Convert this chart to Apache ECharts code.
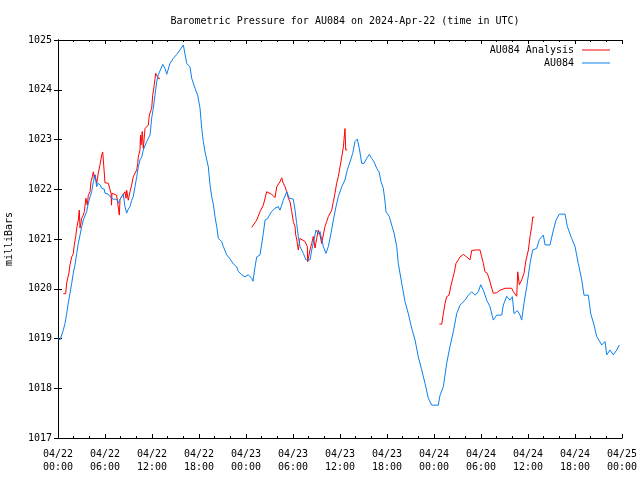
<!DOCTYPE html>
<html>
<head>
<meta charset="utf-8">
<script src="https://cdn.jsdelivr.net/npm/echarts@6/dist/echarts.min.js"></script>
<style>html,body{margin:0;padding:0;background:#fff}#c{width:640px;height:480px}</style>
</head>
<body>
<div id="c"></div>
<script>
// x values are hours since 2024-04-22 00:00 UTC
const tickLabels = ['04/22\n00:00','04/22\n06:00','04/22\n12:00','04/22\n18:00','04/23\n00:00','04/23\n06:00','04/23\n12:00','04/23\n18:00','04/24\n00:00','04/24\n06:00','04/24\n12:00','04/24\n18:00','04/25\n00:00'];

const blueHours = [0.00,0.26,0.68,0.89,1.11,1.31,1.53,1.75,1.95,2.17,2.39,2.59,2.81,3.03,3.23,3.45,3.66,3.87,4.09,4.30,4.51,4.72,4.94,5.07,5.36,5.58,5.91,6.00,6.42,6.64,7.06,7.49,7.70,7.92,8.13,8.34,8.55,8.77,8.97,9.19,9.41,9.61,9.83,10.05,10.25,10.47,10.69,10.89,11.32,11.75,11.96,12.17,12.38,12.60,12.80,13.24,13.37,13.66,13.88,14.30,14.72,15.15,15.58,16.00,16.43,16.85,17.07,17.49,17.83,18.13,18.35,18.55,18.77,19.19,19.40,19.62,19.83,20.04,20.26,20.47,20.90,21.10,21.54,21.96,22.38,22.81,23.02,23.45,23.87,24.30,24.73,24.89,25.15,25.37,25.79,26.21,26.43,26.77,26.98,27.28,27.70,28.12,28.34,28.56,28.76,29.20,29.53,30.04,30.26,30.47,30.68,30.89,31.32,31.66,32.17,32.39,32.68,32.94,33.23,33.45,33.66,33.87,34.21,34.51,34.81,35.15,35.49,35.78,36.22,36.64,36.93,37.28,37.62,37.92,38.21,38.47,38.77,39.07,39.41,39.74,40.05,40.34,40.69,40.98,41.24,41.53,41.75,41.87,42.30,42.60,42.90,43.24,43.44,43.88,44.30,44.72,45.16,45.58,46.00,46.43,46.85,47.27,47.71,48.55,48.77,49.19,49.62,50.04,50.47,50.90,51.32,51.96,52.38,52.81,53.24,53.66,53.96,54.30,54.73,55.15,55.57,56.00,56.64,56.85,57.28,57.70,58.00,58.22,58.64,58.98,59.20,59.49,59.84,60.26,60.60,61.11,61.45,61.96,62.18,62.81,63.24,63.58,64.00,64.73,65.02,65.58,66.00,66.42,66.86,67.15,67.70,68.01,68.43,68.77,69.41,69.83,70.05,70.47,70.89,71.33,71.66];
const bluePressure = [1019.00,1018.97,1019.17,1019.30,1019.50,1019.71,1019.91,1020.11,1020.31,1020.48,1020.71,1020.91,1021.08,1021.25,1021.38,1021.41,1021.55,1021.72,1021.85,1021.95,1022.15,1022.29,1022.05,1022.12,1022.09,1022.02,1022.00,1021.92,1021.90,1021.85,1021.80,1021.80,1021.72,1021.80,1021.85,1021.90,1021.65,1021.52,1021.60,1021.65,1021.78,1021.85,1022.05,1022.25,1022.45,1022.59,1022.65,1022.79,1022.96,1023.09,1023.43,1023.63,1023.89,1024.16,1024.30,1024.46,1024.51,1024.43,1024.31,1024.53,1024.63,1024.71,1024.80,1024.90,1024.53,1024.46,1024.23,1024.03,1023.89,1023.63,1023.22,1022.96,1022.75,1022.45,1022.10,1021.85,1021.70,1021.45,1021.25,1021.01,1020.95,1020.85,1020.68,1020.60,1020.50,1020.44,1020.35,1020.28,1020.24,1020.28,1020.21,1020.15,1020.44,1020.64,1020.68,1021.11,1021.38,1021.41,1021.48,1021.55,1021.62,1021.65,1021.58,1021.68,1021.78,1021.95,1021.82,1021.80,1021.58,1021.31,1021.05,1020.85,1020.71,1020.58,1020.58,1020.78,1020.98,1021.18,1021.10,1021.15,1021.00,1020.85,1020.71,1020.85,1021.08,1021.38,1021.65,1021.85,1022.05,1022.19,1022.39,1022.55,1022.72,1022.96,1023.01,1022.82,1022.52,1022.52,1022.62,1022.70,1022.62,1022.55,1022.42,1022.35,1022.15,1022.02,1021.75,1021.55,1021.45,1021.28,1021.12,1020.85,1020.51,1020.11,1019.74,1019.50,1019.20,1018.97,1018.63,1018.37,1018.10,1017.80,1017.66,1017.66,1017.86,1018.03,1018.50,1018.84,1019.14,1019.50,1019.67,1019.77,1019.87,1019.94,1019.87,1019.94,1020.08,1019.97,1019.77,1019.64,1019.37,1019.47,1019.47,1019.67,1019.85,1019.77,1019.84,1019.50,1019.56,1019.47,1019.37,1019.71,1020.04,1020.51,1020.78,1020.81,1020.99,1021.08,1020.88,1020.88,1021.18,1021.38,1021.50,1021.50,1021.25,1021.01,1020.85,1020.51,1020.18,1019.87,1019.87,1019.50,1019.27,1019.04,1018.87,1018.94,1018.67,1018.77,1018.67,1018.77,1018.87];

const redHours1 = [0.68,0.98,1.11,1.40,1.53,1.75,1.95,2.08,2.26,2.39,2.59,2.72,2.81,3.03,3.23,3.36,3.57,3.74,3.87,4.09,4.21,4.38,4.51,4.64,4.72,4.94,5.14,5.36,5.58,5.71,5.91,6.00,6.42,6.64,6.77,6.83,6.89,7.06,7.49,7.70,7.83,7.92,8.13,8.34,8.55,8.68,8.77,8.97,9.19,9.41,9.61,9.83,10.05,10.18,10.25,10.47,10.53,10.60,10.76,10.89,11.11,11.53,11.66,11.96,12.09,12.29,12.47,12.80,13.02];
const redPressure1 = [1019.90,1019.90,1020.12,1020.32,1020.48,1020.64,1020.70,1020.88,1021.05,1021.22,1021.38,1021.58,1021.22,1021.42,1021.48,1021.55,1021.82,1021.68,1021.88,1021.95,1022.15,1022.25,1022.35,1022.22,1022.29,1022.12,1022.32,1022.49,1022.69,1022.75,1022.75,1022.13,1022.12,1022.12,1021.92,1021.68,1021.92,1021.92,1021.88,1021.85,1021.48,1021.80,1021.85,1021.88,1021.95,1021.82,1021.98,1021.78,1021.95,1022.09,1022.25,1022.29,1022.39,1022.52,1022.65,1022.79,1023.09,1022.89,1023.16,1022.82,1023.22,1023.29,1023.49,1023.63,1023.89,1024.10,1024.33,1024.23,1024.23];

const redHours2 = [24.72,24.93,25.37,25.79,26.21,26.64,26.85,27.28,27.70,27.92,28.34,28.56,28.76,28.98,29.20,29.41,29.62,29.84,30.04,30.26,30.35,30.47,30.60,30.68,30.89,31.53,31.83,31.87,32.17,32.39,32.59,32.81,33.02,33.23,33.45,33.66,33.87,34.08,34.30,34.51,34.73,34.94,35.15,35.36,35.57,35.78,36.00,36.22,36.43,36.64,36.73,36.93];
const redPressure2 = [1021.23,1021.23,1021.38,1021.55,1021.68,1021.95,1021.96,1021.90,1021.83,1022.05,1022.15,1022.23,1022.12,1022.05,1021.95,1021.82,1021.75,1021.55,1021.35,1021.25,1021.08,1021.00,1020.85,1020.78,1021.01,1020.95,1020.85,1020.54,1020.78,1020.91,1021.05,1020.82,1021.01,1021.18,1021.08,1020.91,1021.08,1021.25,1021.35,1021.45,1021.48,1021.58,1021.75,1021.92,1022.12,1022.25,1022.45,1022.65,1022.85,1023.22,1022.79,1022.79];

const redHours3 = [48.68,48.99,49.19,49.41,49.62,49.92,50.13,50.39,50.56,50.81,51.10,51.32,51.75,52.17,52.60,52.81,53.45,53.87,54.09,54.30,54.51,54.81,55.15,55.37,55.57,56.00,56.43,57.07,57.92,58.13,58.56,58.69,58.89,59.20,59.49,59.75,60.05,60.26,60.47,60.60,60.81];
const redPressure3 = [1019.29,1019.29,1019.50,1019.71,1019.84,1019.87,1020.04,1020.21,1020.31,1020.51,1020.58,1020.64,1020.69,1020.64,1020.58,1020.77,1020.78,1020.78,1020.64,1020.51,1020.34,1020.31,1020.14,1020.01,1019.91,1019.92,1019.97,1020.01,1020.01,1019.94,1019.85,1020.34,1020.08,1020.18,1020.31,1020.58,1020.78,1021.05,1021.25,1021.44,1021.44];

const pair = (xs, ys) => xs.map((x, i) => [x, ys[i]]);
const RED = '#ff0000', BLUE = '#0a80f0';
const FONT = 'DejaVu Sans Mono';

const lineSeries = (name, data, color) => ({
  name, type: 'line', data, showSymbol: false, symbol: 'none',
  lineStyle: { color, width: 1 }, itemStyle: { color },
  animation: false, silent: true
});

const xBase = {
  type: 'value', min: 0, max: 72, interval: 6,
  axisLine: { show: true, lineStyle: { color: '#000', width: 1 } },
  axisTick: { show: true, inside: true, length: 4, lineStyle: { color: '#000' } },
  minorTick: { show: true, splitNumber: 3, length: 2, lineStyle: { color: '#000' } },
  splitLine: { show: false }
};
const yBase = {
  type: 'value', min: 1017, max: 1025, interval: 1,
  axisLine: { show: true, lineStyle: { color: '#000', width: 1 } },
  axisTick: { show: true, inside: true, length: 4, lineStyle: { color: '#000' } },
  splitLine: { show: false }
};

const chart = echarts.init(document.getElementById('c'), null, { renderer: 'canvas' });
chart.setOption({
  animation: false,
  backgroundColor: '#fff',
  title: {
    text: 'Barometric Pressure for AU084 on 2024-Apr-22 (time in UTC)',
    left: 340, top: 11, textAlign: 'center',
    textStyle: { fontFamily: FONT, fontSize: 10, fontWeight: 'normal', color: '#000' }
  },
  legend: {
    data: ['AU084 Analysis', 'AU084'],
    orient: 'vertical', align: 'right', right: 30, top: 44, padding: 0,
    itemGap: 1, itemWidth: 28, itemHeight: 1, icon: 'rect',
    formatter: n => '{a|' + n + '}',
    textStyle: { fontFamily: FONT, fontSize: 10, color: '#000', lineHeight: 12,
      rich: { a: { fontFamily: FONT, fontSize: 10, color: '#000', padding: [0, 3, 0, 0] } } }
  },
  grid: { left: 58, right: 18, top: 40, bottom: 42, containLabel: false, outerBoundsMode: 'none' },
  xAxis: [
    Object.assign({}, xBase, {
      position: 'bottom',
      axisLabel: { show: true, margin: 10, lineHeight: 13, fontFamily: FONT, fontSize: 10, color: '#000',
        formatter: v => tickLabels[Math.round(v / 6)] }
    }),
    Object.assign({}, xBase, { position: 'top', axisLabel: { show: false } })
  ],
  yAxis: [
    Object.assign({}, yBase, {
      position: 'left',
      name: 'milliBars', nameLocation: 'middle', nameGap: 44, nameRotate: 90,
      nameTextStyle: { fontFamily: FONT, fontSize: 10, color: '#000' },
      axisLabel: { show: true, margin: 6, fontFamily: FONT, fontSize: 10, color: '#000',
        formatter: v => String(v) }
    }),
    Object.assign({}, yBase, { position: 'right', axisLabel: { show: false } })
  ],
  series: [
    lineSeries('AU084 Analysis', pair(redHours1, redPressure1), RED),
    lineSeries('AU084 Analysis', pair(redHours2, redPressure2), RED),
    lineSeries('AU084 Analysis', pair(redHours3, redPressure3), RED),
    lineSeries('AU084', pair(blueHours, bluePressure), BLUE)
  ]
});
</script>
</body>
</html>
